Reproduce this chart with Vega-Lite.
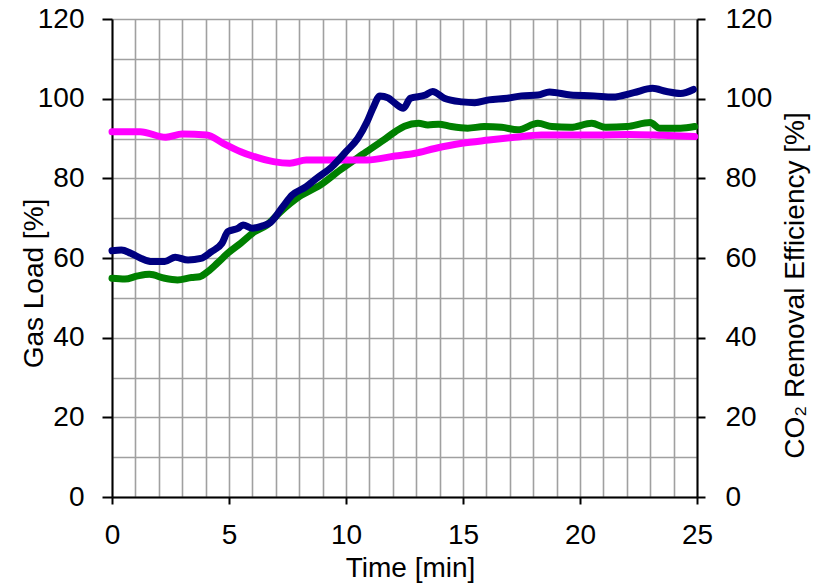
{
  "$schema": "https://vega.github.io/schema/vega-lite/v6.json",
  "width": 585,
  "height": 478,
  "autosize": "none",
  "padding": {"left": 112, "top": 19, "right": 124, "bottom": 86},
  "background": "white",
  "config": {
    "font": "Liberation Sans",
    "view": {"stroke": null},
    "axis": {
      "labelFont": "Liberation Sans",
      "titleFont": "Liberation Sans",
      "labelFontSize": 28,
      "titleFontSize": 28,
      "titleFontWeight": "normal",
      "labelColor": "black",
      "titleColor": "black",
      "domainColor": "black",
      "domainWidth": 2,
      "tickColor": "black",
      "tickWidth": 2,
      "gridColor": "#a0a0a0",
      "gridWidth": 1.6,
      "gridOpacity": 1,
      "labelOverlap": false
    }
  },
  "datasets": {
    "lines": [
      {"series": "Gas Load A", "t": 0, "v": 61.8},
      {"series": "Gas Load A", "t": 0.4, "v": 62.0},
      {"series": "Gas Load A", "t": 0.8, "v": 61.2},
      {"series": "Gas Load A", "t": 1.25, "v": 59.9},
      {"series": "Gas Load A", "t": 1.7, "v": 59.1},
      {"series": "Gas Load A", "t": 2.25, "v": 59.1},
      {"series": "Gas Load A", "t": 2.7, "v": 60.2},
      {"series": "Gas Load A", "t": 3.25, "v": 59.5},
      {"series": "Gas Load A", "t": 3.8, "v": 59.9},
      {"series": "Gas Load A", "t": 4.25, "v": 61.6},
      {"series": "Gas Load A", "t": 4.7, "v": 63.7},
      {"series": "Gas Load A", "t": 4.95, "v": 66.6},
      {"series": "Gas Load A", "t": 5.4, "v": 67.5},
      {"series": "Gas Load A", "t": 5.6, "v": 68.3},
      {"series": "Gas Load A", "t": 6.0, "v": 67.5},
      {"series": "Gas Load A", "t": 6.4, "v": 68.0},
      {"series": "Gas Load A", "t": 6.75, "v": 68.8},
      {"series": "Gas Load A", "t": 7.3, "v": 72.9},
      {"series": "Gas Load A", "t": 7.7, "v": 75.8},
      {"series": "Gas Load A", "t": 8.3, "v": 77.9},
      {"series": "Gas Load A", "t": 8.75, "v": 80.0},
      {"series": "Gas Load A", "t": 9.4, "v": 82.9},
      {"series": "Gas Load A", "t": 10.0, "v": 86.7},
      {"series": "Gas Load A", "t": 10.5, "v": 90.0},
      {"series": "Gas Load A", "t": 10.9, "v": 94.2},
      {"series": "Gas Load A", "t": 11.15, "v": 97.6},
      {"series": "Gas Load A", "t": 11.45, "v": 100.7},
      {"series": "Gas Load A", "t": 11.8, "v": 100.2},
      {"series": "Gas Load A", "t": 12.1, "v": 98.8},
      {"series": "Gas Load A", "t": 12.45, "v": 97.6},
      {"series": "Gas Load A", "t": 12.75, "v": 100.1},
      {"series": "Gas Load A", "t": 13.4, "v": 100.9},
      {"series": "Gas Load A", "t": 13.7, "v": 101.8},
      {"series": "Gas Load A", "t": 14.2, "v": 100.1},
      {"series": "Gas Load A", "t": 14.95, "v": 99.2},
      {"series": "Gas Load A", "t": 15.5, "v": 99.0},
      {"series": "Gas Load A", "t": 16.1, "v": 99.7},
      {"series": "Gas Load A", "t": 16.9, "v": 100.1},
      {"series": "Gas Load A", "t": 17.5, "v": 100.7},
      {"series": "Gas Load A", "t": 18.2, "v": 100.9},
      {"series": "Gas Load A", "t": 18.7, "v": 101.7},
      {"series": "Gas Load A", "t": 19.6, "v": 100.9},
      {"series": "Gas Load A", "t": 20.6, "v": 100.7},
      {"series": "Gas Load A", "t": 21.4, "v": 100.4},
      {"series": "Gas Load A", "t": 22.3, "v": 101.5},
      {"series": "Gas Load A", "t": 23.1, "v": 102.6},
      {"series": "Gas Load A", "t": 23.7, "v": 101.8},
      {"series": "Gas Load A", "t": 24.3, "v": 101.3},
      {"series": "Gas Load A", "t": 24.85, "v": 102.3},

      {"series": "Gas Load B", "t": 0, "v": 54.9},
      {"series": "Gas Load B", "t": 0.55, "v": 54.7},
      {"series": "Gas Load B", "t": 1.1, "v": 55.5},
      {"series": "Gas Load B", "t": 1.6, "v": 55.9},
      {"series": "Gas Load B", "t": 2.25, "v": 54.9},
      {"series": "Gas Load B", "t": 2.8, "v": 54.5},
      {"series": "Gas Load B", "t": 3.4, "v": 55.1},
      {"series": "Gas Load B", "t": 3.75, "v": 55.3},
      {"series": "Gas Load B", "t": 4.1, "v": 56.6},
      {"series": "Gas Load B", "t": 4.5, "v": 58.7},
      {"series": "Gas Load B", "t": 4.95, "v": 61.2},
      {"series": "Gas Load B", "t": 5.5, "v": 63.7},
      {"series": "Gas Load B", "t": 6.1, "v": 66.6},
      {"series": "Gas Load B", "t": 6.6, "v": 68.2},
      {"series": "Gas Load B", "t": 7.2, "v": 71.6},
      {"series": "Gas Load B", "t": 8.0, "v": 75.4},
      {"series": "Gas Load B", "t": 8.9, "v": 78.3},
      {"series": "Gas Load B", "t": 9.75, "v": 82.1},
      {"series": "Gas Load B", "t": 10.7, "v": 86.0},
      {"series": "Gas Load B", "t": 11.6, "v": 89.6},
      {"series": "Gas Load B", "t": 12.1, "v": 91.7},
      {"series": "Gas Load B", "t": 12.5, "v": 93.1},
      {"series": "Gas Load B", "t": 13.1, "v": 93.8},
      {"series": "Gas Load B", "t": 13.5, "v": 93.4},
      {"series": "Gas Load B", "t": 13.95, "v": 93.6},
      {"series": "Gas Load B", "t": 14.5, "v": 93.0},
      {"series": "Gas Load B", "t": 15.2, "v": 92.6},
      {"series": "Gas Load B", "t": 15.9, "v": 93.0},
      {"series": "Gas Load B", "t": 16.65, "v": 92.8},
      {"series": "Gas Load B", "t": 17.35, "v": 92.2},
      {"series": "Gas Load B", "t": 18.2, "v": 93.8},
      {"series": "Gas Load B", "t": 18.8, "v": 93.0},
      {"series": "Gas Load B", "t": 19.6, "v": 92.8},
      {"series": "Gas Load B", "t": 20.5, "v": 93.8},
      {"series": "Gas Load B", "t": 21.1, "v": 92.8},
      {"series": "Gas Load B", "t": 22.0, "v": 93.0},
      {"series": "Gas Load B", "t": 23.0, "v": 94.0},
      {"series": "Gas Load B", "t": 23.4, "v": 92.6},
      {"series": "Gas Load B", "t": 24.3, "v": 92.6},
      {"series": "Gas Load B", "t": 24.9, "v": 93.0},

      {"series": "CO2 Removal Efficiency", "t": 0, "v": 91.7},
      {"series": "CO2 Removal Efficiency", "t": 1.2, "v": 91.7},
      {"series": "CO2 Removal Efficiency", "t": 2.3, "v": 90.3},
      {"series": "CO2 Removal Efficiency", "t": 3.0, "v": 91.1},
      {"series": "CO2 Removal Efficiency", "t": 4.05, "v": 90.9},
      {"series": "CO2 Removal Efficiency", "t": 4.75, "v": 88.8},
      {"series": "CO2 Removal Efficiency", "t": 5.5, "v": 86.7},
      {"series": "CO2 Removal Efficiency", "t": 6.0, "v": 85.6},
      {"series": "CO2 Removal Efficiency", "t": 6.9, "v": 84.2},
      {"series": "CO2 Removal Efficiency", "t": 7.6, "v": 83.8},
      {"series": "CO2 Removal Efficiency", "t": 8.3, "v": 84.6},
      {"series": "CO2 Removal Efficiency", "t": 9.45, "v": 84.6},
      {"series": "CO2 Removal Efficiency", "t": 10.9, "v": 84.6},
      {"series": "CO2 Removal Efficiency", "t": 12.1, "v": 85.6},
      {"series": "CO2 Removal Efficiency", "t": 12.95, "v": 86.3},
      {"series": "CO2 Removal Efficiency", "t": 13.8, "v": 87.5},
      {"series": "CO2 Removal Efficiency", "t": 14.95, "v": 88.8},
      {"series": "CO2 Removal Efficiency", "t": 16.1, "v": 89.6},
      {"series": "CO2 Removal Efficiency", "t": 17.2, "v": 90.3},
      {"series": "CO2 Removal Efficiency", "t": 18.35, "v": 90.9},
      {"series": "CO2 Removal Efficiency", "t": 19.3, "v": 90.9},
      {"series": "CO2 Removal Efficiency", "t": 20.7, "v": 90.9},
      {"series": "CO2 Removal Efficiency", "t": 22.1, "v": 91.0},
      {"series": "CO2 Removal Efficiency", "t": 23.5, "v": 90.8},
      {"series": "CO2 Removal Efficiency", "t": 24.9, "v": 90.5}
    ]
  },
  "data": {"name": "lines"},
  "resolve": {"axis": {"y": "independent"}},
  "encoding": {
    "x": {
      "field": "t", "type": "quantitative",
      "scale": {"domain": [0, 25], "nice": false, "zero": false},
      "axis": {
        "values": [0,1,2,3,4,5,6,7,8,9,10,11,12,13,14,15,16,17,18,19,20,21,22,23,24,25],
        "grid": true,
        "labelExpr": "datum.value % 5 === 0 ? datum.label : ''",
        "tickOpacity": {"condition": {"test": "datum.value % 5 === 0", "value": 1}, "value": 0},
        "tickSize": 7,
        "labelPadding": 17,
        "labelFlush": false,
        "labelOverlap": false,
        "title": "Time [min]",
        "titleBaseline": "alphabetic",
        "titleY": 79,
        "titleX": 298
      }
    },
    "color": {
      "field": "series", "type": "nominal",
      "scale": {"domain": ["Gas Load A", "Gas Load B", "CO2 Removal Efficiency"], "range": ["#000080", "#008000", "#ff00ff"]},
      "legend": null
    },
    "order": {"field": "t"}
  },
  "layer": [
    {
      "transform": [{"filter": "datum.series !== 'Gas Load A'"}],
      "mark": {"type": "line", "strokeWidth": 7, "strokeCap": "round", "strokeJoin": "round", "interpolate": "monotone"},
      "encoding": {
        "y": {
          "field": "v", "type": "quantitative",
          "scale": {"domain": [0, 120], "nice": false},
          "axis": {
            "orient": "right",
            "values": [0,20,40,60,80,100,120],
            "grid": false,
            "tickSize": 8,
            "labelPadding": 20,
            "labelFlush": false,
            "title": "CO₂ Removal Efficiency [%]",
            "titleAngle": 270,
            "titleAlign": "center",
            "titleBaseline": "alphabetic",
            "titleX": 106,
            "titleY": 266
          }
        }
      }
    },
    {
      "transform": [{"filter": "datum.series === 'Gas Load A'"}],
      "mark": {"type": "line", "strokeWidth": 7, "strokeCap": "round", "strokeJoin": "round", "interpolate": "monotone"},
      "encoding": {
        "y": {
          "field": "v", "type": "quantitative",
          "scale": {"domain": [0, 120], "nice": false},
          "axis": {
            "orient": "left",
            "values": [0,10,20,30,40,50,60,70,80,90,100,110,120],
            "grid": true,
            "labelExpr": "datum.value % 20 === 0 ? datum.label : ''",
            "tickOpacity": {"condition": {"test": "datum.value % 20 === 0", "value": 1}, "value": 0},
            "tickSize": 10,
            "labelPadding": 18,
            "labelFlush": false,
            "title": "Gas Load [%]",
            "titleAngle": 270,
            "titleAlign": "center",
            "titleBaseline": "alphabetic",
            "titleX": -70,
            "titleY": 264
          }
        }
      }
    }
  ]
}
